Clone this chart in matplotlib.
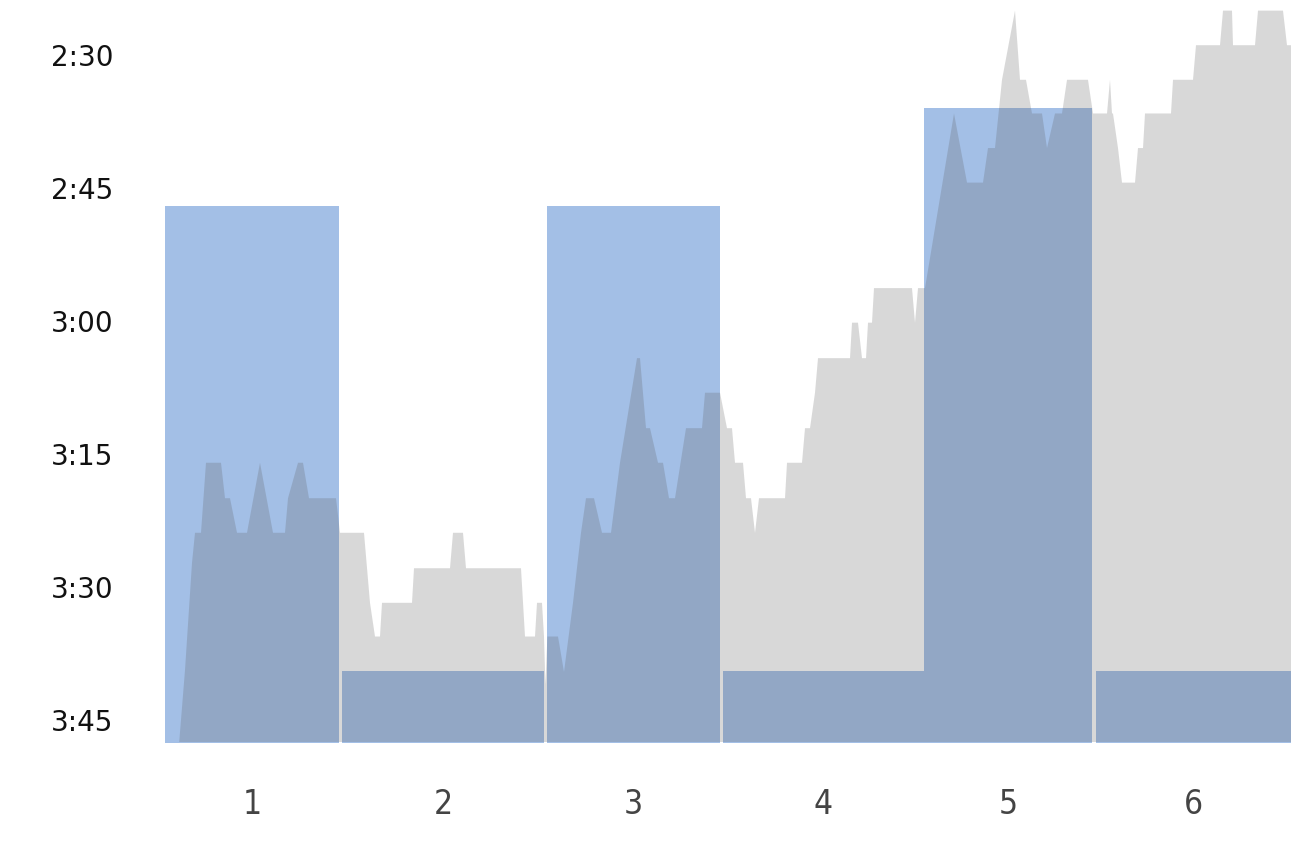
import matplotlib
matplotlib.use("Agg")
import matplotlib.pyplot as plt
from matplotlib.ticker import FixedLocator, FuncFormatter

# interval blocks (elapsed seconds) and their target pace (sec per 500m)
bar_start = [0, 88.5, 191, 279, 379.5, 465.5]
bar_end = [87, 189.5, 277.5, 379.5, 463.5, 563]
bar_pace = [167, 219.5, 167, 219.5, 156, 219.5]
bar_labels = ["1", "2", "3", "4", "5", "6"]

# actual pace trace
prof_t = [5.5, 10, 13.5, 15, 18, 20.5, 28, 30, 32.5, 36, 41, 47.5, 54, 60, 61.5,
          66.5, 69, 72, 85.5, 87.5, 99.5, 102.5, 105, 107.5, 108.5, 123.5, 124.5,
          142.5, 144, 149, 150.5, 178, 180, 185, 186, 188.5, 189.5, 190.2, 191.2,
          196.5, 199.5, 204, 208, 210.5, 214.5, 218.5, 223, 227.5, 236, 237.5,
          240.5, 242.5, 246.5, 249, 252, 255, 260.5, 268.5, 270, 277.5, 281,
          283.5, 285, 289, 290.5, 293, 295, 297, 310, 311, 318.5, 320, 322.5,
          325, 326.5, 342.5, 343.5, 346.5, 348.5, 350.5, 351.5, 353.5, 354.5,
          373.5, 375, 376.5, 380, 394.5, 401, 409, 411.5, 415, 418.5, 425,
          427.5, 430.5, 433.5, 438.5, 441, 445, 448.5, 451, 461.5, 464, 471,
          472.5, 473.5, 474, 476.5, 478.5, 485, 486.5, 489, 490, 503, 504, 514,
          515.5, 527.5, 529, 533.5, 534, 545, 546.5, 559, 561, 563]
prof_pace = [232, 219.4, 207.3, 203.9, 203.9, 196, 196, 200, 200, 203.9, 203.9,
             196, 203.9, 203.9, 200, 196, 196, 200, 200, 203.9, 203.9, 211.8,
             215.6, 215.6, 211.8, 211.8, 207.9, 207.9, 203.9, 203.9, 207.9,
             207.9, 215.6, 215.6, 211.8, 211.8, 215.6, 221, 215.6, 215.6,
             219.6, 211.8, 203.9, 200, 200, 203.9, 203.9, 196, 184.2, 184.2,
             192.1, 192.1, 196, 196, 200, 200, 192.1, 192.1, 188.1, 188.1, 192.1,
             192.1, 196, 196, 200, 200, 203.9, 200, 200, 196, 196, 192.1, 192.1,
             188.1, 184.2, 184.2, 180.2, 180.2, 184.2, 184.2, 180.2, 180.2, 176.3,
             176.3, 180.2, 176.3, 176.3, 156.6, 164.4, 164.4, 160.5, 160.5, 152.8,
             145, 152.8, 152.8, 156.6, 156.6, 160.5, 156.6, 156.6, 152.8, 152.8,
             156.6, 156.6, 152.8, 156.6, 156.6, 160.5, 164.4, 164.4, 160.5, 160.5,
             156.6, 156.6, 152.8, 152.8, 148.9, 148.9, 145, 145, 148.9, 148.9,
             145, 145, 148.9, 148.9]

y_ticks = [150, 165, 180, 195, 210, 225]
base = 227.5


def fmt_pace(v, pos):
    v = int(round(v))
    return "{}:{:02d}".format(v // 60, v % 60)


fig = plt.figure(figsize=(12.91, 8.43), dpi=100)
ax = fig.add_axes([165 / 1291, 101 / 843, 1126 / 1291, 742 / 843])

for s, e, p in zip(bar_start, bar_end, bar_pace):
    ax.fill_between([s, e], [p, p], base + 20, color="#a3bfe6", linewidth=0)

ax.fill_between(prof_t, prof_pace, base + 20, color="#5a5a5a", alpha=0.23,
                linewidth=0)

ax.set_xlim(0, 563)
ax.set_ylim(base, 143.8)

ax.yaxis.set_major_locator(FixedLocator(y_ticks))
ax.yaxis.set_major_formatter(FuncFormatter(fmt_pace))
centers = [(s + e) / 2 for s, e in zip(bar_start, bar_end)]
ax.set_xticks(centers)
ax.set_xticklabels(bar_labels, family="DejaVu Sans", stretch="condensed",
                   fontsize=24, color="#444444")
for lab in ax.get_yticklabels():
    lab.set_family("DejaVu Sans")
    lab.set_fontsize(20)
    lab.set_color("#111111")

ax.tick_params(axis="y", length=0, pad=37)
ax.tick_params(axis="x", length=0, pad=33)
for sp in ax.spines.values():
    sp.set_visible(False)

fig.savefig("out.png", dpi=100)
